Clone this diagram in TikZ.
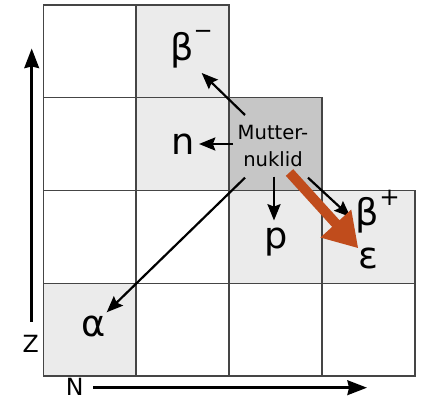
\documentclass[tikz,border=0pt]{standalone}
\usepackage{fontspec}
\setmainfont{DejaVu Sans}
\usetikzlibrary{arrows.meta}
\definecolor{lightcell}{HTML}{EBEBEB}
\definecolor{darkcell}{HTML}{C6C6C6}
\definecolor{gridline}{HTML}{454545}
\definecolor{decayorange}{RGB}{192,76,28}
\begin{document}
\begin{tikzpicture}[x=0.02155cm,y=-0.02155cm,
  cellbox/.style={draw=gridline,line width=0.9pt},
  greek/.style={font=\fontsize{22.5}{22.5}\selectfont,inner sep=0pt,anchor=base},
  axislabel/.style={font=\fontsize{14.5}{14.5}\selectfont,inner sep=0pt,anchor=base},
  decayarrow/.style={line width=1.35pt,-{Stealth[length=10pt,width=8pt,inset=1.5pt]}},
  axisarrow/.style={line width=1.6pt,-{Stealth[length=12pt,width=9pt,inset=1pt]}},
  ecarrow/.style={line width=6.1pt,decayorange,-{Triangle[length=20.5pt,width=24pt]}}]
\useasboundingbox (0,0) rectangle (421,400);
% columns 43.3 136.2 229.1 322 414.9 ; rows 5 97.75 190.5 283.25 376
% row 0
\draw[cellbox,fill=white]     (43.3,5) rectangle (136.2,97.75);
\draw[cellbox,fill=lightcell] (136.2,5) rectangle (229.1,97.75);
% row 1
\draw[cellbox,fill=white]     (43.3,97.75) rectangle (136.2,190.5);
\draw[cellbox,fill=lightcell] (136.2,97.75) rectangle (229.1,190.5);
\draw[cellbox,fill=darkcell]  (229.1,97.75) rectangle (322,190.5);
% row 2
\draw[cellbox,fill=white]     (43.3,190.5) rectangle (136.2,283.25);
\draw[cellbox,fill=white]     (136.2,190.5) rectangle (229.1,283.25);
\draw[cellbox,fill=lightcell] (229.1,190.5) rectangle (322,283.25);
\draw[cellbox,fill=lightcell] (322,190.5) rectangle (414.9,283.25);
% row 3
\draw[cellbox,fill=lightcell] (43.3,283.25) rectangle (136.2,376);
\draw[cellbox,fill=white]     (136.2,283.25) rectangle (229.1,376);
\draw[cellbox,fill=white]     (229.1,283.25) rectangle (322,376);
\draw[cellbox,fill=white]     (322,283.25) rectangle (414.9,376);

% labels
\node[align=center,inner sep=0pt,font=\fontsize{12}{16.9}\selectfont] (mother) at (273,146) {Mutter-\\nuklid};
\node[greek,anchor=base west] (bminus) at (170,61) {β\raisebox{0.6em}{\fontsize{14}{14}\selectfont −}};
\node[greek] (nlab) at (183,154.3) {n};
\node[greek] (plab) at (276,248.8) {p};
\node[greek,anchor=base west] (bplus) at (355.5,226) {β\raisebox{0.55em}{\fontsize{15}{15}\selectfont +}};
\node[greek] (elab) at (368.5,268.3) {ε};
\node[greek] (alab) at (93.3,336.7) {α};
\node[axislabel] (zlab) at (30.7,353) {Z};
\node[axislabel] (nax) at (74.7,395.5) {N};

% connector coordinates
\coordinate (sBm) at (245,115);   \coordinate (tBm) at (201.7,73);
\coordinate (sN) at (233,144);    \coordinate (tN) at (199,144);
\coordinate (sA) at (245,177.7);  \coordinate (tA) at (106.7,312.3);
\coordinate (sP) at (274,176.7);  \coordinate (tP) at (274,220.5);
\coordinate (sBp) at (308,177.7); \coordinate (tBp) at (350.5,217);
\coordinate (sE) at (289.5,172.5);\coordinate (tE) at (358.3,248.3);
\coordinate (zs) at (31.7,321.7); \coordinate (ze) at (31.7,48.5);
\coordinate (ns) at (93.3,387.7); \coordinate (ne) at (367,387.7);

\draw[decayarrow] (sBm) -- (tBm);
\draw[decayarrow] (sN) -- (tN);
\draw[decayarrow] (sA) -- (tA);
\draw[decayarrow] (sP) -- (tP);
\draw[decayarrow] (sBp) -- (tBp);
\draw[ecarrow] (sE) -- (tE);
\draw[axisarrow] (zs) -- (ze);
\draw[axisarrow] (ns) -- (ne);
\end{tikzpicture}
\end{document}
